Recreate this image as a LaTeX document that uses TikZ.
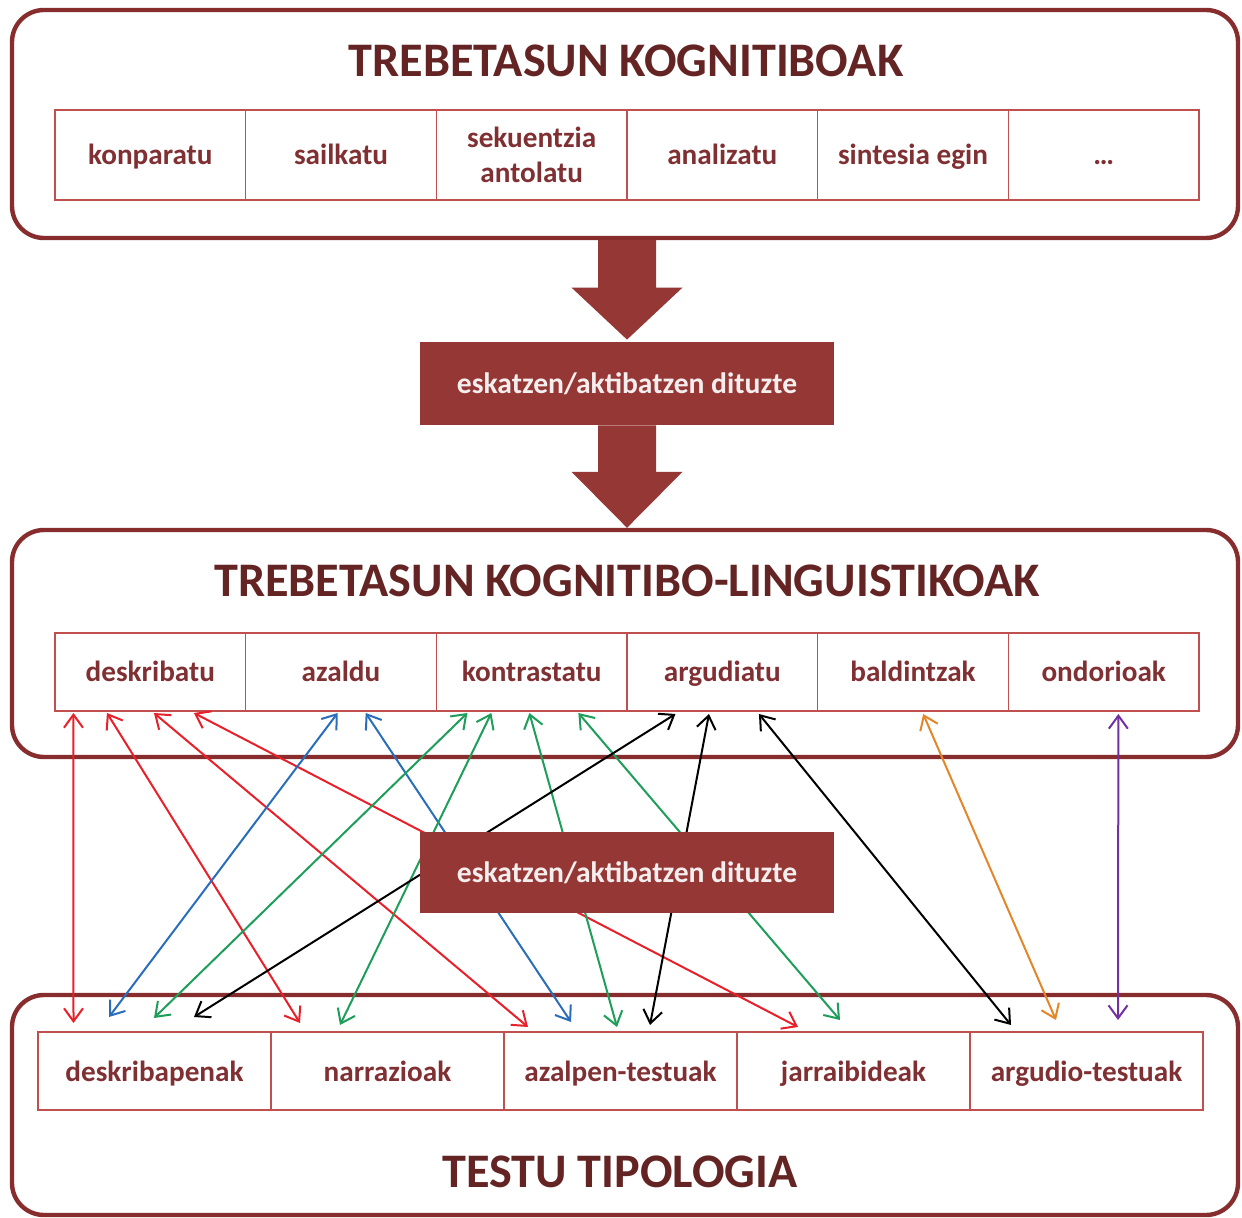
\documentclass[tikz,border=0pt]{standalone}
\usepackage{fontspec}
\setmainfont{Carlito}
\usetikzlibrary{arrows.meta,calc,positioning}
\definecolor{panelred}{RGB}{135,45,45}
\definecolor{cellred}{RGB}{192,80,77}
\definecolor{titlered}{RGB}{99,36,35}
\definecolor{textred}{RGB}{128,48,50}
\definecolor{boxred}{RGB}{149,55,53}
\definecolor{lnred}{RGB}{232,32,42}
\definecolor{lnblue}{RGB}{42,110,187}
\definecolor{lngreen}{RGB}{30,158,90}
\definecolor{lnorange}{RGB}{227,134,42}
\definecolor{lnpurple}{RGB}{112,48,160}
\tikzset{
	panel/.style={draw=panelred, line width=2.2pt, rounded corners=16pt, fill=white, minimum width=613pt},
	cell/.style={draw=cellred, line width=0.8pt, fill=white, inner sep=0pt, outer sep=0pt, align=center,
			text=textred, font=\bfseries\fontsize{14.6}{17.5}\selectfont},
	cellline/.style={cell, text height=10pt, text depth=0pt},
	heading/.style={anchor=base, text=titlered, font=\bfseries\fontsize{24.1}{27}\selectfont},
	verbbox/.style={fill=boxred, minimum width=207pt, inner sep=0pt, text={rgb,255:red,245;green,238;blue,238},
			text height=10pt, text depth=0pt, font=\bfseries\fontsize{14.8}{17}\selectfont},
	link/.style={<->, >={Straight Barb[length=6.5pt,width=9.5pt]}, line width=1pt}
}

\begin{document}
\begin{tikzpicture}[x=0.5pt, y=-0.5pt]
	\useasboundingbox (0,0) rectangle (1242,1218);
	% the three panels
	\node [panel, minimum height=114pt] (cogpanel) at (625,124) {};
	\node [panel, minimum height=113.5pt] (lingpanel) at (625,643.5) {};
	\node [panel, minimum height=110pt] (typepanel) at (625,1105) {};

	\node [heading] (cogtitle) at (626,77) {TREBETASUN KOGNITIBOAK};
	\node [heading] (lingtitle) at (627,597) {TREBETASUN KOGNITIBO-LINGUISTIKOAK};
	\node [heading] (typetitle) at (620,1187) {TESTU TIPOLOGIA};

	% cognitive skills
	\node [cellline, minimum width=95.33pt, minimum height=45pt] (kg1) at (150.3,155) {konparatu};
	\node [cellline, minimum width=95.33pt, minimum height=45pt] (kg2) at (341.0,155) {sailkatu};
	\node [cell, minimum width=95.33pt, minimum height=45pt] (kg3) at (531.7,155) {sekuentzia\\antolatu};
	\node [cellline, minimum width=95.33pt, minimum height=45pt] (kg4) at (722.3,155) {analizatu};
	\node [cellline, minimum width=95.33pt, minimum height=45pt] (kg5) at (913.0,155) {sintesia egin};
	\node [cellline, minimum width=95.33pt, minimum height=45pt] (kg6) at (1103.7,155) {\textellipsis};

	% cognitive-linguistic skills
	\node [cellline, minimum width=95.33pt, minimum height=39pt] (lk1) at (150.3,672) {deskribatu};
	\node [cellline, minimum width=95.33pt, minimum height=39pt] (lk2) at (341.0,672) {azaldu};
	\node [cellline, minimum width=95.33pt, minimum height=39pt] (lk3) at (531.7,672) {kontrastatu};
	\node [cellline, minimum width=95.33pt, minimum height=39pt] (lk4) at (722.3,672) {argudiatu};
	\node [cellline, minimum width=95.33pt, minimum height=39pt] (lk5) at (913.0,672) {baldintzak};
	\node [cellline, minimum width=95.33pt, minimum height=39pt] (lk6) at (1103.7,672) {ondorioak};

	% text types
	\node [cellline, minimum width=116.5pt, minimum height=39pt] (tt1) at (154.5,1071) {deskribapenak};
	\node [cellline, minimum width=116.5pt, minimum height=39pt] (tt2) at (387.5,1071) {narrazioak};
	\node [cellline, minimum width=116.5pt, minimum height=39pt] (tt3) at (620.5,1071) {azalpen-testuak};
	\node [cellline, minimum width=116.5pt, minimum height=39pt] (tt4) at (853.5,1071) {jarraibideak};
	\node [cellline, minimum width=116.5pt, minimum height=39pt] (tt5) at (1086.5,1071) {argudio-testuak};

	% block arrows
	\node [verbbox, minimum height=41.5pt] (verb1) at (627,383.5) {eskatzen/aktibatzen dituzte};
	\fill [boxred] let \p1 = (cogpanel.south), \p2 = ($(verb1.north)+(0,-2)$) in
		(\x2-14.5pt,\y1) -- (\x2-14.5pt,\y2+26pt) -- (\x2-27.75pt,\y2+26pt) -- (\x2,\y2)
		-- (\x2+27.75pt,\y2+26pt) -- (\x2+14.5pt,\y2+26pt) -- (\x2+14.5pt,\y1) -- cycle;
	\fill [boxred] let \p1 = (verb1.south), \p2 = (lingpanel.north) in
		(\x1-14.5pt,\y1) -- (\x1-14.5pt,\y2+28pt) -- (\x1-27.75pt,\y2+28pt) -- (\x1,\y2)
		-- (\x1+27.75pt,\y2+28pt) -- (\x1+14.5pt,\y2+28pt) -- (\x1+14.5pt,\y1) -- cycle;

	% links between skills and text types
	\draw [link, lnred] ($(lk1.south west)+(18.5,2)$) -- ($(tt1.north west)+(35.5,-9)$);
	\draw [link, lnred] ($(lk1.south west)+(52,2)$) -- ($(tt2.north west)+(29,-9)$);
	\draw [link, lnred] ($(lk1.south west)+(99,2)$) -- ($(tt3.north west)+(24,-5)$);
	\draw [link, lnred] ($(lk1.south west)+(139,2)$) -- ($(tt4.north west)+(61,-5)$);
	\draw [link, lnblue] ($(lk2.south west)+(92,2)$) -- ($(tt1.north west)+(71,-15)$);
	\draw [link, lnblue] ($(lk2.south west)+(120,2)$) -- ($(tt3.north west)+(67,-10)$);
	\draw [link, lngreen] ($(lk3.south west)+(31,2)$) -- ($(tt1.north west)+(116,-14)$);
	\draw [link, lngreen] ($(lk3.south west)+(55,2)$) -- ($(tt2.north west)+(69,-7)$);
	\draw [link, lngreen] ($(lk3.south west)+(93,2)$) -- ($(tt3.north west)+(113,-5)$);
	\draw [link, lngreen] ($(lk3.south west)+(142,2)$) -- ($(tt4.north west)+(103,-12)$);
	\draw [link, black] ($(lk4.south west)+(48.5,3)$) -- ($(tt1.north west)+(156,-15)$);
	\draw [link, black] ($(lk4.south west)+(82,3)$) -- ($(tt3.north west)+(146,-7)$);
	\draw [link, black] ($(lk4.south west)+(132,3)$) -- ($(tt5.north west)+(41,-7)$);
	\draw [link, lnorange] ($(lk5.south west)+(105.5,3)$) -- ($(tt5.north west)+(86,-12)$);
	\draw [link, lnpurple] ($(lk6.south west)+(110,3)$) -- ($(tt5.north west)+(148,-12)$);

	\node [verbbox, minimum height=40.5pt] (verb2) at (627,872.5) {eskatzen/aktibatzen dituzte};
\end{tikzpicture}
\end{document}
